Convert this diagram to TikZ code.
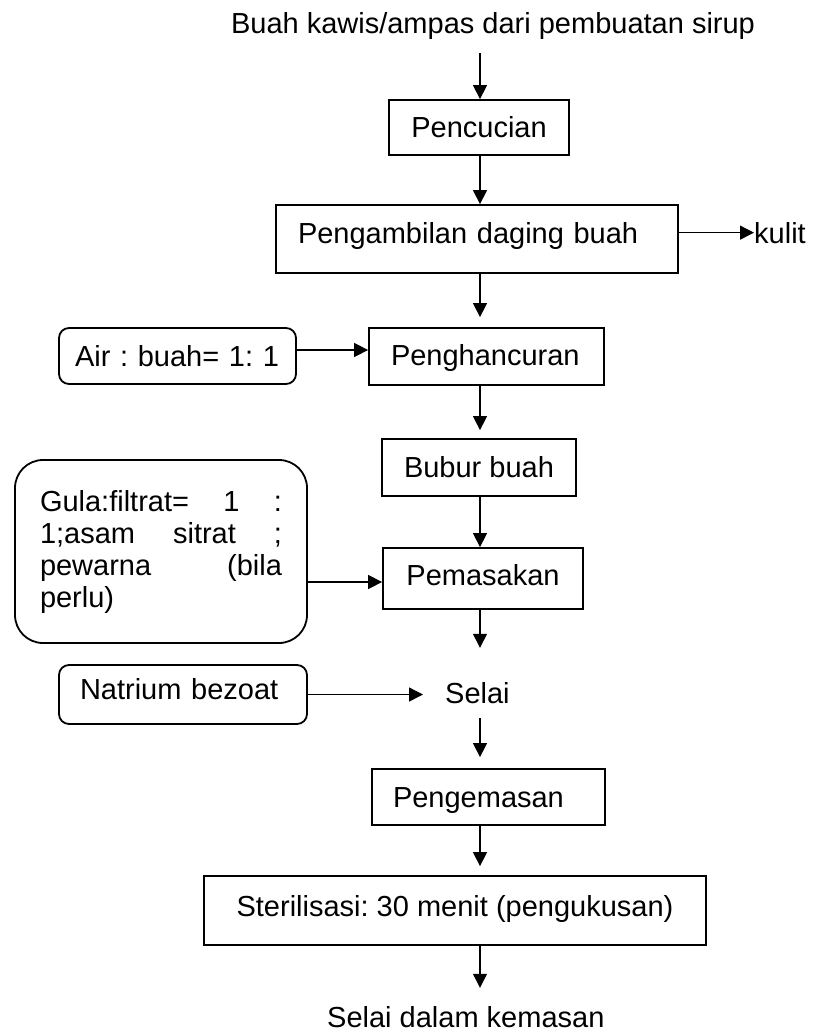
\documentclass[tikz,border=0pt]{standalone}
\usepackage{fontspec}
\setmainfont{Liberation Sans}
\usetikzlibrary{arrows.meta,calc}
\frenchspacing
\begin{document}
\begin{tikzpicture}[x=1pt,y=-1pt,
  every node/.style={font=\fontsize{29}{32}\selectfont\frenchspacing},
  box/.style={draw,line width=1.8pt,inner sep=0pt,text height=20pt,text depth=0pt},
  rbox/.style={box,rounded corners=10pt},
  lbl/.style={inner sep=0pt},
  arr/.style={line width=1.4pt,-{Triangle[length=14pt,width=14pt]}}]
\useasboundingbox (0,0) rectangle (817,1031);
\coordinate (X) at (480,0);
\coordinate (G) at (0,582);

\node[lbl,anchor=base] (top) at (493,33) {Buah kawis/ampas dari pembuatan sirup};
\node[box,minimum width=180pt,minimum height=55pt] (pencucian) at (479,127.5) {Pencucian};
\node[box,minimum width=402pt,minimum height=68pt,text width=358pt,align=left,text depth=12pt] (pengambilan) at (477,239) {Pengambilan daging buah};
\node[lbl,anchor=base west] (kulit) at (754,243) {kulit};
\node[rbox,minimum width=237pt,minimum height=56pt,text width=205pt,align=left] (air) at (177.5,356) {Air : buah= 1: 1};
\node[box,minimum width=235pt,minimum height=57pt,text width=191pt,align=left,text depth=3pt] (penghancuran) at (486.5,356.5) {Penghancuran};
\node[box,minimum width=194pt,minimum height=57pt] (bubur) at (479,467.5) {Bubur buah};
\node[box,minimum width=200pt,minimum height=61pt,text depth=7pt] (pemasakan) at (483,578.5) {Pemasakan};
\node[draw,line width=1.8pt,rounded corners=28pt,inner sep=0pt,minimum width=292pt,minimum height=183pt,text width=242pt,align=left] (gula) at (161,551.5)
  {Gula:filtrat=\hfill 1\hfill :\\1;asam\hfill sitrat\hfill ;\\pewarna\hfill (bila\\perlu)};
\node[rbox,minimum width=248pt,minimum height=59pt,text width=206pt,align=left,text depth=11pt] (natrium) at (183,694.5) {Natrium bezoat};
\node[lbl,anchor=base west] (selai) at (445,703) {Selai};
\node[box,minimum width=233pt,minimum height=56pt,text width=191pt,align=left] (pengemasan) at (488.5,797) {Pengemasan};
\node[box,minimum width=502pt,minimum height=69pt,text depth=9pt] (steril) at (455,910.5) {Sterilisasi: 30 menit (pengukusan)};
\node[lbl,anchor=base west] (bottom) at (327,1027) {Selai dalam kemasan};

\draw[arr,shorten <=14pt] (top.south -| X) -- (pencucian.north -| X);
\draw[arr] (pencucian.south -| X) -- (pengambilan.north -| X);
\draw[arr] (pengambilan.east |- kulit) -- (kulit.west);
\draw[arr,shorten >=10pt] (pengambilan.south -| X) -- (penghancuran.north -| X);
\draw[arr] ([yshift=6pt]air.east) -- ([yshift=6pt]air.east -| penghancuran.west);
\draw[arr,shorten >=8pt] (penghancuran.south -| X) -- (bubur.north -| X);
\draw[arr] (bubur.south -| X) -- (pemasakan.north -| X);
\draw[arr] (gula.east |- G) -- (pemasakan.west |- G);
\draw[arr,shorten >=34pt] (pemasakan.south -| X) -- (selai.north -| X);
\draw[arr,shorten >=22pt] (natrium.east) -- (natrium.east -| selai.west);
\draw[arr,shorten <=15pt,shorten >=11pt] (selai.south -| X) -- (pengemasan.north -| X);
\draw[arr,shorten >=9pt] (pengemasan.south -| X) -- (steril.north -| X);
\draw[arr,shorten >=18pt] (steril.south -| X) -- (bottom.north -| X);
\end{tikzpicture}
\end{document}
